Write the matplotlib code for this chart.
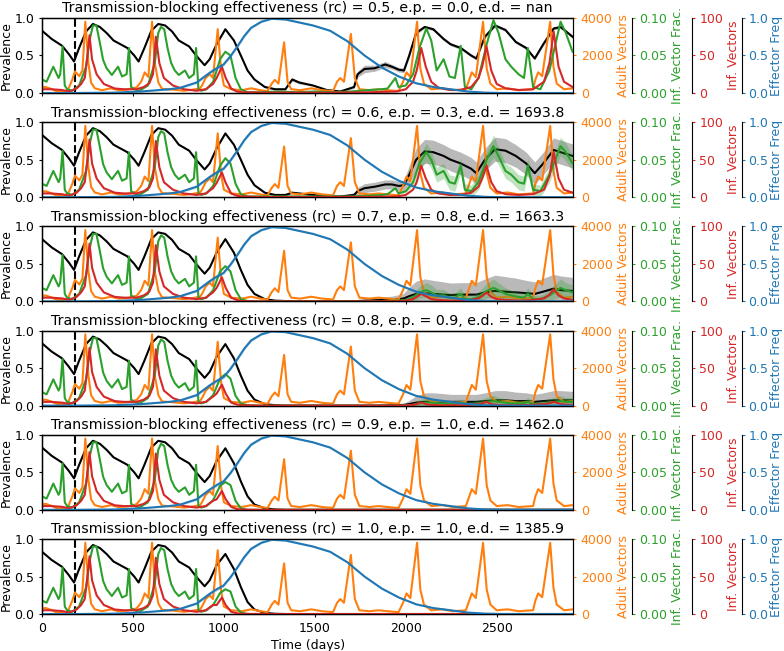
import numpy as np
import matplotlib
matplotlib.use("Agg")
import matplotlib.pyplot as plt

# ---------------- data ----------------
rc_vals = [0.5, 0.6, 0.7, 0.8, 0.9, 1.0]
ep_vals = [0.0, 0.3, 0.8, 0.9, 1.0, 1.0]
ed_vals = ["nan", "1693.8", "1663.3", "1557.1", "1462.0", "1385.9"]
release_day = 180

# Adult vectors (same in all panels)
orange_days = [0, 20, 50, 80, 110, 140, 166, 181, 205, 222, 238, 255, 270, 290, 330, 380, 420, 470, 520, 545,
               565, 585, 605, 620, 640, 660, 720, 780, 830, 870, 885, 900, 922, 940, 966, 985, 1000, 1040, 1100, 1150,
               1200, 1240, 1263, 1280, 1300, 1331, 1350, 1370, 1420, 1480, 1540, 1600, 1622, 1640, 1660, 1698, 1720, 1745, 1800, 1850,
               1900, 1960, 1985, 2004, 2025, 2062, 2080, 2100, 2140, 2200, 2260, 2330, 2345, 2363, 2385, 2425, 2445, 2465, 2500, 2560,
               2620, 2700, 2712, 2728, 2750, 2794, 2812, 2830, 2870, 2920]
orange_vals = [300, 320, 220, 90, 80, 100, 700, 1150, 900, 1200, 3800, 1600, 550, 250, 150, 250, 150, 180, 300, 600,
               1100, 850, 3800, 1600, 550, 220, 180, 120, 180, 250, 500, 800, 1000, 800, 3400, 1200, 400, 200, 150, 250,
               150, 100, 500, 700, 500, 2700, 600, 200, 150, 250, 150, 100, 600, 800, 600, 3150, 800, 200, 150, 200,
               150, 100, 600, 1100, 850, 3800, 1300, 500, 200, 250, 150, 200, 600, 1100, 850, 3800, 1300, 500, 200, 250,
               150, 200, 700, 1100, 900, 3800, 1400, 500, 200, 250]

# Effector frequency (same in all panels)
blue_days = [0, 180, 400, 545, 700, 760, 850, 922, 960, 998, 1036, 1074, 1112, 1150, 1206, 1263, 1338, 1414, 1490, 1584,
             1679, 1773, 1868, 1962, 2057, 2151, 2246, 2340, 2435, 2530, 2920]
blue_vals = [0, 0, 0.005, 0.02, 0.05, 0.07, 0.14, 0.27, 0.33, 0.38, 0.49, 0.62, 0.76, 0.87, 0.95, 0.99, 0.98, 0.94, 0.9, 0.83,
             0.69, 0.5, 0.34, 0.22, 0.13, 0.08, 0.05, 0.02, 0.005, 0, 0]
blue_sd = [0, 0, 0.002, 0.005, 0.008, 0.01, 0.015, 0.02, 0.02, 0.02, 0.02, 0.02, 0.02, 0.015, 0.01, 0.01, 0.01, 0.01, 0.01, 0.012,
           0.012, 0.012, 0.012, 0.01, 0.01, 0.008, 0.006, 0.004, 0.002, 0, 0]

# Prevalence: common part before the effector takes hold
black_pre_days = [0, 53, 110, 147, 176, 204, 242, 280, 318, 355, 393, 431, 469, 507, 531, 563, 601, 639, 677, 715,
                  752, 809, 847, 894, 922, 960]
black_pre_vals = [0.83, 0.72, 0.63, 0.52, 0.42, 0.6, 0.82, 0.92, 0.88, 0.8, 0.7, 0.65, 0.6, 0.5, 0.42, 0.6, 0.83, 0.92, 0.9, 0.82,
                  0.7, 0.62, 0.5, 0.37, 0.45, 0.65]
black_tail_days = [1008, 1055, 1093, 1130, 1168, 1225, 1282, 1338, 1376, 1414, 1490, 1565, 1640, 1716, 1735, 1773, 1830, 1887, 1924, 1962,
                   1990, 2019, 2057, 2104, 2151, 2208, 2246, 2302, 2359, 2388, 2435, 2491, 2548, 2605, 2662, 2709, 2756, 2813, 2851, 2917]
black_tail = [
    [0.85, 0.7, 0.5, 0.3, 0.18, 0.08, 0.05, 0.05, 0.18, 0.14, 0.1, 0.04, 0.02, 0.08, 0.25, 0.32, 0.33, 0.38, 0.35, 0.31,
     0.3, 0.5, 0.8, 0.88, 0.85, 0.72, 0.65, 0.6, 0.5, 0.46, 0.75, 0.9, 0.84, 0.68, 0.6, 0.46, 0.65, 0.86, 0.88, 0.75],
    [0.85, 0.7, 0.5, 0.3, 0.16, 0.06, 0.03, 0.03, 0.06, 0.05, 0.03, 0.01, 0.01, 0.03, 0.08, 0.12, 0.14, 0.17, 0.17, 0.15,
     0.16, 0.3, 0.5, 0.61, 0.6, 0.55, 0.5, 0.45, 0.38, 0.32, 0.5, 0.64, 0.62, 0.55, 0.45, 0.32, 0.45, 0.63, 0.6, 0.55],
    [0.83, 0.65, 0.42, 0.22, 0.1, 0.03, 0.01, 0.005, 0.005, 0.003, 0.002, 0.002, 0.002, 0.005, 0.005, 0.01, 0.015, 0.02, 0.02, 0.03,
     0.04, 0.07, 0.1, 0.11, 0.1, 0.09, 0.085, 0.09, 0.09, 0.09, 0.12, 0.14, 0.13, 0.12, 0.11, 0.1, 0.13, 0.17, 0.15, 0.14],
    [0.82, 0.63, 0.4, 0.2, 0.08, 0.02, 0.005, 0, 0, 0, 0, 0, 0, 0, 0, 0, 0, 0.002, 0.005, 0.008,
     0.01, 0.02, 0.04, 0.05, 0.05, 0.05, 0.05, 0.05, 0.05, 0.05, 0.06, 0.07, 0.07, 0.06, 0.06, 0.05, 0.06, 0.07, 0.07, 0.07],
    [0.82, 0.62, 0.38, 0.18, 0.07, 0.02, 0.005] + [0.0] * 33,
    [0.8, 0.6, 0.36, 0.16, 0.06, 0.015, 0.003] + [0.0] * 33,
]
black_sd = [
    [0.01] * 8 + [0.02, 0.02, 0.01, 0.01, 0.01, 0.02, 0.04, 0.05, 0.04, 0.04, 0.03, 0.03] + [0.03, 0.03] + [0.02] * 18,
    [0.01] * 13 + [0.03, 0.05, 0.06, 0.06, 0.06, 0.06, 0.06, 0.07, 0.12, 0.15, 0.16, 0.16, 0.15, 0.15, 0.15, 0.15, 0.15,
                   0.15, 0.16, 0.16, 0.15, 0.15, 0.15, 0.15, 0.16, 0.16, 0.16],
    [0.0] * 13 + [0.01, 0.01, 0.02, 0.03, 0.04, 0.05, 0.06, 0.07, 0.12, 0.17, 0.19, 0.18, 0.17, 0.16, 0.16, 0.16, 0.16,
                  0.18, 0.21, 0.2, 0.19, 0.17, 0.16, 0.18, 0.19, 0.19, 0.18],
    [0.0] * 17 + [0.005, 0.01, 0.015, 0.02, 0.05, 0.09, 0.12, 0.12, 0.11, 0.1, 0.1, 0.1, 0.1,
                  0.11, 0.13, 0.13, 0.12, 0.11, 0.1, 0.11, 0.13, 0.13, 0.12],
    [0.0] * 40,
    [0.0] * 40,
]

# Infected vector fraction
green_pre_days = [0, 25, 62, 91, 100, 113, 125, 138, 166, 204, 242, 261, 280, 299, 318, 336, 355, 384, 418, 440,
                  465, 478, 490, 507, 535, 582, 620, 639, 654, 672, 690, 710, 730, 752, 786, 809, 835, 847, 860, 875, 904]
green_pre_vals = [0.018, 0.015, 0.035, 0.02, 0.025, 0.062, 0.01, 0.005, 0.003, 0.01, 0.035, 0.07, 0.09, 0.09, 0.067, 0.044, 0.033, 0.024, 0.035, 0.022,
                  0.025, 0.06, 0.008, 0.005, 0.003, 0.01, 0.04, 0.08, 0.088, 0.085, 0.06, 0.04, 0.03, 0.024, 0.03, 0.02, 0.025, 0.06, 0.005, 0.003, 0.005]
green_tail_days = [941, 979, 1008, 1036, 1064, 1093, 1130, 1200, 1300, 1400, 1500, 1600, 1700, 1800, 1870, 1900, 1943, 1960, 2000, 2040,
                   2075, 2113, 2140, 2170, 2208, 2240, 2270, 2302, 2325, 2360, 2400, 2445, 2482, 2510, 2548, 2580, 2620, 2650, 2671, 2700,
                   2740, 2790, 2851, 2880, 2917]
green_tail = [
    [0.015, 0.045, 0.055, 0.05, 0.02, 0.005, 0.001, 0.001, 0.002, 0.001, 0.002, 0.001, 0.002, 0.004, 0.005, 0.006, 0.02, 0.008, 0.01, 0.025,
     0.06, 0.086, 0.07, 0.03, 0.045, 0.022, 0.02, 0.063, 0.008, 0.005, 0.02, 0.065, 0.097, 0.08, 0.045, 0.035, 0.025, 0.02, 0.06, 0.008,
     0.005, 0.03, 0.095, 0.08, 0.055],
    [0.015, 0.042, 0.052, 0.045, 0.018, 0.004, 0.001, 0.001, 0.001, 0.001, 0.001, 0.001, 0.001, 0.002, 0.003, 0.004, 0.012, 0.005, 0.008, 0.02,
     0.045, 0.06, 0.05, 0.03, 0.035, 0.02, 0.018, 0.042, 0.01, 0.008, 0.02, 0.05, 0.068, 0.055, 0.035, 0.03, 0.02, 0.018, 0.042, 0.01,
     0.008, 0.03, 0.068, 0.06, 0.045],
    [0.015, 0.04, 0.047, 0.04, 0.015, 0.003, 0.0005, 0, 0, 0, 0, 0, 0, 0, 0, 0.0005, 0.001, 0.001, 0.002, 0.005,
     0.012, 0.015, 0.012, 0.008, 0.008, 0.005, 0.005, 0.01, 0.003, 0.003, 0.006, 0.014, 0.018, 0.015, 0.01, 0.008, 0.006, 0.005, 0.01, 0.003,
     0.003, 0.008, 0.018, 0.015, 0.012],
    [0.014, 0.036, 0.042, 0.036, 0.013, 0.003, 0.0005, 0, 0, 0, 0, 0, 0, 0, 0, 0, 0, 0, 0.0005, 0.001,
     0.003, 0.004, 0.004, 0.003, 0.003, 0.002, 0.002, 0.004, 0.002, 0.002, 0.003, 0.005, 0.006, 0.005, 0.004, 0.003, 0.003, 0.003, 0.005, 0.002,
     0.002, 0.004, 0.006, 0.005, 0.005],
    [0.013, 0.032, 0.037, 0.033, 0.012, 0.002, 0] + [0.0] * 38,
    [0.012, 0.028, 0.033, 0.03, 0.01, 0.002, 0] + [0.0] * 38,
]
green_sd = [
    [0.0] * 45,
    [0.0] * 18 + [0.002, 0.005, 0.01, 0.012, 0.012, 0.01, 0.01, 0.01, 0.01, 0.01, 0.008, 0.008,
                  0.01, 0.012, 0.015, 0.012, 0.01, 0.01, 0.01, 0.01, 0.01, 0.008, 0.008, 0.01, 0.012, 0.012, 0.01],
    [0.0] * 18 + [0.002, 0.005, 0.008, 0.01, 0.01, 0.008, 0.008, 0.006, 0.006, 0.008, 0.005, 0.005,
                  0.006, 0.01, 0.012, 0.01, 0.008, 0.007, 0.006, 0.006, 0.008, 0.005, 0.005, 0.007, 0.012, 0.01, 0.01],
    [0.0] * 18 + [0.001, 0.002, 0.005, 0.006, 0.006, 0.005, 0.005, 0.004, 0.004, 0.005, 0.004, 0.004,
                  0.004, 0.006, 0.008, 0.006, 0.005, 0.005, 0.004, 0.004, 0.006, 0.004, 0.004, 0.005, 0.007, 0.006, 0.006],
    [0.0] * 45,
    [0.0] * 45,
]

# Infected vectors
red_pre_days = [0, 50, 110, 150, 190, 215, 235, 250, 261, 275, 300, 340, 400, 450, 520, 560, 590, 610, 626, 645,
                670, 720, 780, 850, 900, 940]
red_pre_vals = [5, 5, 4, 2, 6, 12, 20, 50, 77, 45, 25, 12, 6, 5, 5, 8, 13, 25, 75, 40,
                20, 10, 5, 3, 5, 12]
red_tail_days = [960, 989, 1010, 1040, 1070, 1100, 1200, 1400, 1600, 1800, 1950, 2000, 2040, 2060, 2085, 2110, 2140, 2180, 2240, 2300,
                 2360, 2400, 2420, 2444, 2470, 2500, 2550, 2620, 2700, 2760, 2790, 2813, 2840, 2870, 2917]
red_tail = [
    [20, 35, 20, 6, 2, 1, 0.5, 0.5, 0.5, 1, 2, 5, 15, 30, 60, 35, 15, 7, 4, 4,
     8, 20, 35, 62, 30, 12, 6, 4, 5, 15, 40, 82, 35, 15, 8],
    [19, 33, 19, 5, 2, 1, 0.3, 0.3, 0.3, 0.5, 1, 3, 10, 20, 42, 25, 10, 5, 3, 3,
     6, 14, 25, 42, 20, 8, 4, 3, 4, 10, 28, 60, 25, 10, 6],
    [18, 32, 18, 5, 2, 0.5, 0, 0, 0, 0, 0.2, 1, 3, 6, 10, 7, 3, 2, 1, 1,
     2, 4, 7, 12, 6, 3, 2, 1, 2, 4, 9, 16, 8, 4, 2],
    [16, 28, 16, 4, 1.5, 0.5, 0, 0, 0, 0, 0, 0.3, 1, 2, 4, 2, 1, 0.5, 0.5, 0.5,
     1, 2, 3, 5, 2, 1, 0.5, 0.5, 1, 2, 3, 5, 3, 1.5, 1],
    [14, 25, 14, 4, 1, 0.3] + [0.0] * 29,
    [12, 22, 12, 3, 1, 0.3] + [0.0] * 29,
]

# ---------------- plot ----------------
C_OR, C_GR, C_RD, C_BL = "#ff7f0e", "#2ca02c", "#d62728", "#1f77b4"
plt.rcParams.update({
    "font.size": 9,
    "xtick.major.size": 2.5, "ytick.major.size": 2.5,
    "xtick.major.pad": 3, "ytick.major.pad": 3,
    "axes.labelpad": 3,
})

fig, axes = plt.subplots(6, 1, figsize=(7.84, 6.51), dpi=100, sharex=True)
fig.subplots_adjust(left=0.0536, right=0.731, bottom=0.0568, top=0.9724, hspace=0.389)

for i, ax in enumerate(axes):
    bd = np.array(black_pre_days + black_tail_days)
    bv = np.array(black_pre_vals + black_tail[i])
    bs = np.array([0.0] * len(black_pre_days) + black_sd[i])
    ax.fill_between(bd, bv - bs, bv + bs, color="gray", alpha=0.55, lw=0)
    ax.plot(bd, bv, color="k", lw=1.5)
    ax.axvline(release_day, color="k", ls="--", lw=1.5)
    ax.set_ylim(0, 1)
    ax.set_yticks([0, 0.5, 1.0])
    ax.set_ylabel("Prevalence", labelpad=1)
    ax.set_xlim(0, 2920)
    ax.set_xticks([0, 500, 1000, 1500, 2000, 2500])
    ax.set_title(f"Transmission-blocking effectiveness (rc) = {rc_vals[i]}, "
                 f"e.p. = {ep_vals[i]}, e.d. = {ed_vals[i]}", fontsize=10.2, pad=4)

    # Adult vectors
    axo = ax.twinx()
    axo.plot(orange_days, orange_vals, color=C_OR, lw=1.5)
    axo.set_ylim(0, 4000)
    axo.set_yticks([0, 2000, 4000])
    axo.set_ylabel("Adult Vectors", color=C_OR)
    axo.tick_params(axis="y", colors=C_OR)

    # Infected vector fraction
    axg = ax.twinx()
    axg.spines["right"].set_position(("axes", 1.11))
    gd = np.array(green_pre_days + green_tail_days)
    gv = np.array(green_pre_vals + green_tail[i])
    gs = np.array([0.0] * len(green_pre_days) + green_sd[i])
    axg.fill_between(gd, gv - gs, gv + gs, color=C_GR, alpha=0.3, lw=0)
    axg.plot(gd, gv, color=C_GR, lw=1.5)
    axg.set_ylim(0, 0.1)
    axg.set_yticks([0, 0.05, 0.1])
    axg.set_yticklabels(["0.00", "0.05", "0.10"])
    axg.set_ylabel("Inf. Vector Frac.", color=C_GR)
    axg.tick_params(axis="y", colors=C_GR)

    # Infected vectors
    axr = ax.twinx()
    axr.spines["right"].set_position(("axes", 1.223))
    axr.plot(red_pre_days + red_tail_days, red_pre_vals + red_tail[i], color=C_RD, lw=1.5)
    axr.set_ylim(0, 100)
    axr.set_yticks([0, 50, 100])
    axr.set_ylabel("Inf. Vectors", color=C_RD)
    axr.tick_params(axis="y", colors=C_RD)

    # Effector frequency
    axb = ax.twinx()
    axb.spines["right"].set_position(("axes", 1.318))
    bdd = np.array(blue_days)
    bvv = np.array(blue_vals)
    bss = np.array(blue_sd)
    axb.fill_between(bdd, bvv - bss, bvv + bss, color=C_BL, alpha=0.3, lw=0)
    axb.plot(bdd, bvv, color=C_BL, lw=1.5)
    axb.set_ylim(0, 1)
    axb.set_yticks([0, 0.5, 1.0])
    axb.set_ylabel("Effector Freq", color=C_BL, labelpad=1)
    axb.tick_params(axis="y", colors=C_BL, pad=2)

axes[-1].set_xlabel("Time (days)")

fig.savefig("out.png", dpi=100)
